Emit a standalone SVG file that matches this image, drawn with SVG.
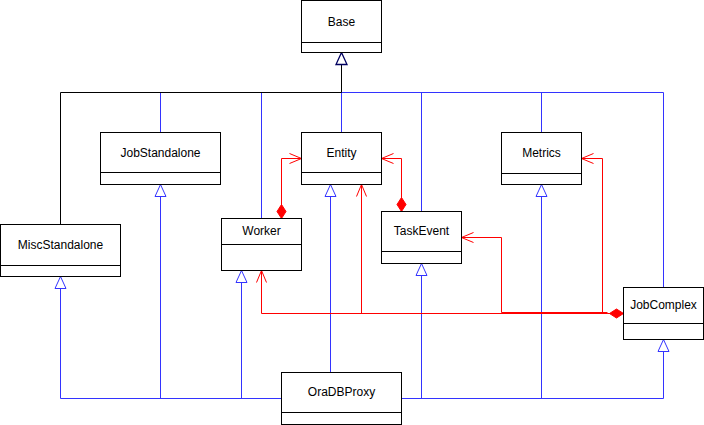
<svg xmlns="http://www.w3.org/2000/svg" width="704" height="425" viewBox="0 0 704 425">
<style>
.box{fill:#ffffff;stroke:#000000;stroke-width:1}
.div{stroke:#000000;stroke-width:1}
.lbl{font-family:"Liberation Sans",Arial,Helvetica,sans-serif;font-size:12px;fill:#000000;text-anchor:middle}
.gen{fill:none;stroke:#3333ff;stroke-width:1}
.genk{fill:none;stroke:#000000;stroke-width:1}
.asc{fill:none;stroke:#ff0000;stroke-width:1}
</style>
<defs>
<marker id="triB" markerUnits="userSpaceOnUse" markerWidth="16" markerHeight="16" viewBox="-14 -8 16 16" refX="0" refY="0" orient="auto">
<path d="M0,0 L-12,-5.5 L-12,5.5 Z" fill="#ffffff" stroke="#3333ff" stroke-width="1"/>
</marker>
<marker id="triK" markerUnits="userSpaceOnUse" markerWidth="16" markerHeight="16" viewBox="-14 -8 16 16" refX="0" refY="0" orient="auto">
<path d="M0,0 L-12,-5.5 L-12,5.5 Z" fill="#ffffff" stroke="#000060" stroke-width="1.3"/>
</marker>
<marker id="open" markerUnits="userSpaceOnUse" markerWidth="16" markerHeight="16" viewBox="-14 -8 16 16" refX="0" refY="0" orient="auto">
<path d="M-12,-5 L0,0 L-12,5" fill="none" stroke="#ff0000" stroke-width="1"/>
</marker>
<marker id="dia" markerUnits="userSpaceOnUse" markerWidth="18" markerHeight="12" viewBox="-1 -6 18 12" refX="0" refY="0" orient="auto">
<path d="M0,0 L7,-4.5 L14,0 L7,4.5 Z" fill="#ff0000" stroke="#ff0000" stroke-width="1"/>
</marker>
</defs>

<g id="connectors">
<!-- generalizations to Base -->
<path class="gen" d="M160.5,132.5 V92.5 H663.5 V287.5"/>
<path class="gen" d="M261.5,218.5 V92.5"/>
<path class="gen" d="M341.5,132.5 V92.5"/>
<path class="gen" d="M421.5,211.5 V92.5"/>
<path class="gen" d="M541.5,132.5 V92.5"/>
<path class="genk" d="M60.5,224.5 V92.5 H341.5 V52.5" marker-end="url(#triK)"/>
<!-- generalizations from OraDBProxy -->
<path class="gen" d="M281.5,398.5 H60.5 V276.5" marker-end="url(#triB)"/>
<path class="gen" d="M160.5,398.5 V184.5" marker-end="url(#triB)"/>
<path class="gen" d="M241.5,398.5 V270.5" marker-end="url(#triB)"/>
<path class="gen" d="M330.5,372.5 V184.5" marker-end="url(#triB)"/>
<path class="gen" d="M401.5,398.5 H663.5 V339.5" marker-end="url(#triB)"/>
<path class="gen" d="M421.5,398.5 V263.5" marker-end="url(#triB)"/>
<path class="gen" d="M541.5,398.5 V184.5" marker-end="url(#triB)"/>
<!-- compositions -->
<path class="asc" d="M281.5,218.5 V158.5 H301.5" marker-start="url(#dia)" marker-end="url(#open)"/>
<path class="asc" d="M401.5,211.5 V158.5 H381.5" marker-start="url(#dia)" marker-end="url(#open)"/>
<path class="asc" d="M607.5,313.5 H261.5 V270.5" marker-end="url(#open)"/>
<path class="asc" d="M607.5,313.5 H361.5 V184.5" marker-end="url(#open)"/>
<path class="asc" d="M607.5,312.5 H501.5 V237.5 H461.5" marker-end="url(#open)"/>
<path class="asc" d="M607.5,313.5 H602.5 V158.5 H581.5" marker-end="url(#open)"/>
<path class="asc" d="M623.5,313.5 H607.5" marker-start="url(#dia)"/>
</g>

<g id="Base">
<rect class="box" x="301.5" y="0.5" width="80" height="52"/>
<line class="div" x1="301.5" y1="42.5" x2="381.5" y2="42.5"/>
<text class="lbl" x="341.5" y="25.5">Base</text>
</g>
<g id="JobStandalone">
<rect class="box" x="100.5" y="132.5" width="120" height="52"/>
<line class="div" x1="100.5" y1="172.5" x2="220.5" y2="172.5"/>
<text class="lbl" x="160.5" y="156.5">JobStandalone</text>
</g>
<g id="Entity">
<rect class="box" x="301.5" y="132.5" width="80" height="52"/>
<line class="div" x1="301.5" y1="172.5" x2="381.5" y2="172.5"/>
<text class="lbl" x="341.5" y="156.5">Entity</text>
</g>
<g id="Metrics">
<rect class="box" x="501.5" y="132.5" width="80" height="52"/>
<line class="div" x1="501.5" y1="173.5" x2="581.5" y2="173.5"/>
<text class="lbl" x="541.5" y="157">Metrics</text>
</g>
<g id="MiscStandalone">
<rect class="box" x="0.5" y="224.5" width="120" height="52"/>
<line class="div" x1="0.5" y1="265.5" x2="120.5" y2="265.5"/>
<text class="lbl" x="60.5" y="249">MiscStandalone</text>
</g>
<g id="Worker">
<rect class="box" x="221.5" y="218.5" width="80" height="52"/>
<line class="div" x1="221.5" y1="244.5" x2="301.5" y2="244.5"/>
<text class="lbl" x="261.5" y="234.5">Worker</text>
</g>
<g id="TaskEvent">
<rect class="box" x="381.5" y="211.5" width="80" height="52"/>
<line class="div" x1="381.5" y1="251.5" x2="461.5" y2="251.5"/>
<text class="lbl" x="421.5" y="234.5">TaskEvent</text>
</g>
<g id="JobComplex">
<rect class="box" x="623.5" y="287.5" width="80" height="52"/>
<line class="div" x1="623.5" y1="323.5" x2="703.5" y2="323.5"/>
<text class="lbl" x="663.5" y="309">JobComplex</text>
</g>
<g id="OraDBProxy">
<rect class="box" x="281.5" y="372.5" width="120" height="52"/>
<line class="div" x1="281.5" y1="412.5" x2="401.5" y2="412.5"/>
<text class="lbl" x="341.5" y="396">OraDBProxy</text>
</g>
</svg>
